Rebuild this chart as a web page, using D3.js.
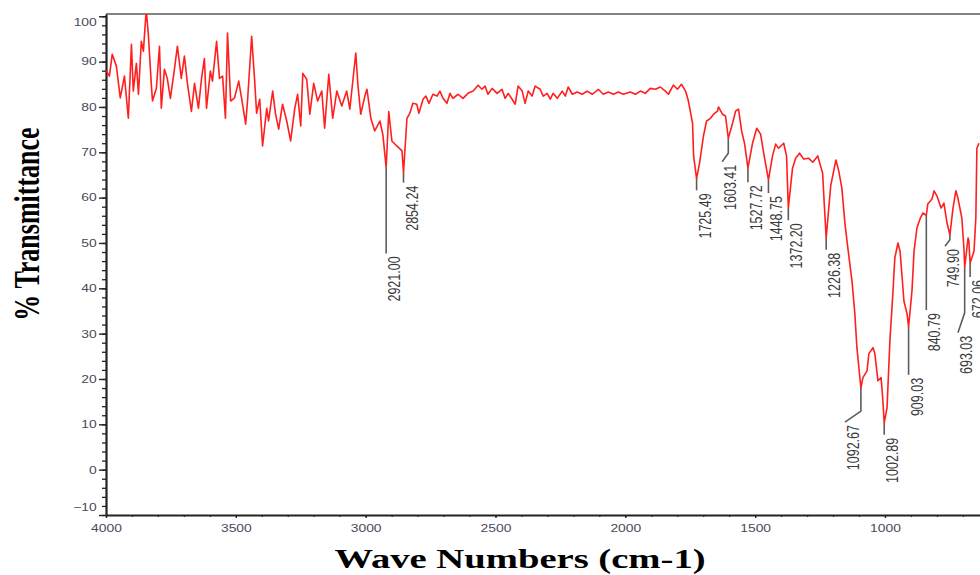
<!DOCTYPE html>
<html lang="en">
<head>
<meta charset="UTF-8">
<title>% Transmittance vs Wave Numbers</title>
<script src="https://d3js.org/d3.v7.min.js"></script>
<style>
  body { margin: 0; background: #fff; overflow: hidden; }
  svg { display: block; }
  .tick-label { font-family: "Liberation Sans", Arial, sans-serif; font-size: 10.5px; fill: #4a4a5a; }
  .peak-label { font-family: "Liberation Sans", Arial, sans-serif; font-size: 12.5px; fill: #3a3a3a; }
  .title { font-family: "Liberation Serif", "Times New Roman", serif; font-weight: bold; fill: #000; }
</style>
</head>
<body>
<div id="chart"></div>
<script>
// spectrum: wave number (cm-1) and % transmittance
const waveNumbers = [
  3999, 3987, 3976, 3960, 3945, 3929, 3914, 3902, 3895, 3883, 3875, 3864, 3856, 3845, 3837, 3825,
  3821, 3806, 3794, 3787, 3775, 3764, 3752, 3736, 3725, 3710, 3698, 3686, 3671, 3659, 3644, 3632,
  3621, 3613, 3598, 3590, 3574, 3563, 3551, 3540, 3532, 3520, 3505, 3489, 3478, 3462, 3455, 3439,
  3428, 3420, 3408, 3397, 3381, 3374, 3358, 3347, 3335, 3320, 3304, 3289, 3273, 3262, 3250, 3242,
  3227, 3215, 3200, 3185, 3169, 3158, 3142, 3127, 3111, 3092, 3073, 3061, 3038, 3030, 3019, 3003,
  2995, 2980, 2965, 2945, 2934, 2921, 2911, 2899, 2880, 2860, 2854.24, 2841, 2830, 2818, 2803, 2795,
  2779, 2768, 2756, 2741, 2725, 2714, 2702, 2687, 2675, 2664, 2644, 2625, 2606, 2586, 2567, 2552,
  2540, 2529, 2513, 2494, 2475, 2463, 2451, 2436, 2424, 2413, 2397, 2386, 2374, 2359, 2347, 2328,
  2316, 2301, 2289, 2278, 2262, 2243, 2231, 2220, 2204, 2185, 2166, 2147, 2127, 2104, 2085, 2065,
  2046, 2027, 2008, 1981, 1961, 1942, 1923, 1904, 1884, 1865, 1846, 1834, 1815, 1799, 1784, 1768,
  1757, 1741, 1737, 1725.49, 1714, 1699, 1687, 1672, 1660, 1645, 1641, 1626, 1614, 1603.41, 1587, 1575,
  1564, 1552, 1541, 1527.72, 1510, 1494, 1479, 1467, 1448.75, 1433, 1421, 1410, 1390, 1379, 1372.2, 1356,
  1344, 1329, 1313, 1294, 1278, 1259, 1240, 1234, 1226.38, 1209, 1189, 1178, 1166, 1154, 1143, 1127,
  1116, 1108, 1098, 1092.67, 1085, 1069, 1062, 1046, 1039, 1027, 1015, 1008, 1002.89, 992, 981, 969,
  962, 950, 942, 935, 927, 915, 909.03, 896, 888, 877, 865, 854, 840.79, 835, 819, 811,
  800, 784, 773, 761, 749.9, 738, 727, 719, 704, 696, 693.03, 680, 677, 672.06, 657, 650,
  646, 638
];
const transmittance = [
  88, 86.8, 91.6, 89, 82, 86.8, 77.5, 93.8, 83.5, 89.6, 82.8, 94.5, 92.3, 101.5, 96, 84.6,
  81.3, 84.1, 93.4, 79.7, 88.3, 86.3, 81.9, 88.5, 93.4, 86.3, 91.2, 85, 79, 85.2, 79.7, 86.3,
  90.7, 79.7, 87.9, 85.7, 94.5, 86.3, 86.8, 77.5, 96.3, 81.3, 82, 85.7, 82, 76.2, 81.3, 95.6,
  86.3, 78.6, 81.7, 71.4, 79.7, 76.9, 83.5, 78.4, 75.1, 80.6, 76.9, 72.5, 79.7, 82.8, 75.8, 87.4,
  86.1, 78.4, 85.2, 81.3, 83.5, 75.3, 87.2, 77.5, 83.5, 80.2, 83.5, 79.5, 91.9, 85, 78.4, 82.4,
  83.9, 77.5, 74.7, 76.9, 74, 66.6, 79, 72.5, 71.4, 70.3, 65.5, 77.5, 78.6, 80.8, 80.6, 78.6,
  81.7, 82.4, 80.8, 82.8, 82.4, 83.5, 81.9, 80.8, 83, 81.9, 82.8, 81.9, 83, 83.5, 84.8, 83.9,
  84.6, 82.8, 84.1, 83, 83.9, 81.9, 83, 81.7, 80.6, 84.6, 83.5, 80.8, 83.5, 82.4, 84.6, 83.9,
  82.4, 83, 81.7, 83, 81.9, 83.5, 82.4, 84.4, 82.8, 83.3, 82.8, 83.5, 82.8, 83.9, 82.8, 83.3,
  82.8, 83.3, 82.8, 83.3, 82.8, 83.5, 83, 84.1, 83.9, 84.4, 83.5, 82.8, 84.8, 83.9, 85, 83.5,
  81.3, 76.4, 69.2, 64.2, 67.6, 73.6, 76.9, 77.5, 78.4, 79.1, 80, 78.4, 78, 73.1, 76.4, 79.1,
  79.5, 74.7, 72, 66.5, 72, 75.3, 74, 69.8, 63.9, 69.2, 71.8, 70.9, 72, 69.2, 57.7, 66.5,
  68.7, 69.8, 68.5, 68.7, 67.8, 69.2, 65.4, 58.8, 51.1, 62.6, 68.3, 65.9, 62.1, 54.2, 48.9, 41.6,
  34.4, 26.9, 21.1, 18, 20.3, 21.8, 25.6, 26.9, 25.6, 19.6, 20.3, 15.2, 10.3, 13.7, 28.4, 39.4,
  46.7, 50, 48.2, 43.2, 37.2, 34.4, 31.5, 39.4, 48.2, 53.3, 55.3, 56.6, 56.1, 58.6, 59.7, 61.5,
  60.4, 57.7, 58.8, 54.4, 51.8, 57.7, 61.5, 59.9, 55.5, 48.9, 44.6, 51.1, 50.5, 45.6, 48.2, 55.5,
  70.9, 72
];

// band labels and their leader lines (values in axis units)
const peakLabels = ["2921.00", "2854.24", "1725.49", "1603.41", "1527.72", "1448.75", "1372.20", "1226.38",
                    "1092.67", "1002.89", "909.03", "840.79", "749.90", "693.03", "672.06"];
const peakT      = [66.6, 65.5, 64.2, 73.1, 66.5, 63.9, 57.7, 51.1, 18.0, 10.3, 31.5, 56.1, 51.8, 44.6, 45.6];
const elbowT     = [47.7, 63.3, 61.6, 69.8, 63.4, 61.0, 55.0, 48.5, 12.9, 7.7, 20.9, 35.2, 50.7, 34.6, 42.5];
const leaderEndT = [47.7, 63.3, 61.6, 67.9, 63.4, 61.0, 55.0, 48.5, 10.5, 7.7, 20.9, 35.2, 49.3, 30.2, 42.5];
const labelWn    = [2921, 2854.24, 1725.49, 1627, 1527.72, 1448.75, 1372.2, 1226.38,
                    1154, 1002.89, 909.03, 840.79, 769, 719, 672.06];

const xTicks = [4000, 3500, 3000, 2500, 2000, 1500, 1000];
const yTicks = [-10, 0, 10, 20, 30, 40, 50, 60, 70, 80, 90, 100];

const width = 980, height = 575;
const plot = {left: 106, right: 980, top: 14, bottom: 515};
const stretch = 1.32;   // the source picture is stretched sideways

const svg = d3.select("#chart").append("svg")
  .attr("width", width)
  .attr("height", height);

const x = d3.scaleLinear().domain([4000, 634]).range([plot.left, plot.right]);
const y = d3.scaleLinear().domain([-10, 100.5]).range([plot.bottom, plot.top]);

svg.append("clipPath").attr("id", "plot-clip")
  .append("rect")
  .attr("x", plot.left).attr("y", plot.top)
  .attr("width", plot.right - plot.left).attr("height", plot.bottom - plot.top);

// top frame
svg.append("line")
  .attr("x1", plot.left).attr("x2", plot.right)
  .attr("y1", plot.top).attr("y2", plot.top)
  .attr("stroke", "#5a5a5a").attr("stroke-width", 1.6);

// minor ticks
svg.append("g")
  .attr("transform", `translate(${plot.left},0)`)
  .call(d3.axisLeft(y).tickValues(d3.range(-10, 101, 2)).tickSize(4).tickFormat(""))
  .call(g => g.select(".domain").remove())
  .selectAll("line").attr("stroke", "#222").attr("stroke-width", 1.3);

svg.append("g")
  .attr("transform", `translate(0,${plot.bottom})`)
  .call(d3.axisBottom(x).tickValues(d3.range(700, 4001, 100)).tickSize(2).tickFormat(""))
  .call(g => g.select(".domain").remove())
  .selectAll("line").attr("stroke", "#333").attr("stroke-width", 1.3);

// y axis
const yAxisG = svg.append("g")
  .attr("transform", `translate(${plot.left},0)`)
  .call(d3.axisLeft(y).tickValues(yTicks).tickSize(7).tickSizeOuter(0).tickFormat(d3.format("d")));
yAxisG.select(".domain").attr("stroke", "#222").attr("stroke-width", 2.2);
yAxisG.selectAll(".tick line").attr("stroke", "#222").attr("stroke-width", 1.4);
yAxisG.selectAll(".tick text")
  .attr("class", "tick-label")
  .attr("x", -7)
  .attr("y", d => d === 100 ? 6 : (d === -10 ? -8 : 0))
  .attr("transform", `scale(${stretch},1)`);

// x axis
const xAxisG = svg.append("g")
  .attr("transform", `translate(0,${plot.bottom})`)
  .call(d3.axisBottom(x).tickValues(xTicks).tickSize(3).tickSizeOuter(0).tickFormat(d3.format("d")));
xAxisG.select(".domain").attr("stroke", "#222").attr("stroke-width", 2.2);
xAxisG.selectAll(".tick line").attr("stroke", "#222").attr("stroke-width", 1.4);
xAxisG.selectAll(".tick text")
  .attr("class", "tick-label")
  .attr("y", 10)
  .attr("transform", `scale(${stretch},1)`);

// spectrum
const spectrum = waveNumbers.map((w, i) => ({wn: w, t: transmittance[i]}));
const line = d3.line().x(d => x(d.wn)).y(d => y(d.t));

svg.append("path")
  .datum(spectrum)
  .attr("clip-path", "url(#plot-clip)")
  .attr("fill", "none")
  .attr("stroke", "#ff1f1f")
  .attr("stroke-width", 1.6)
  .attr("stroke-linejoin", "round")
  .attr("d", line);

// band labels
const peaks = peakLabels.map((lab, i) => ({
  label: lab, wn: +lab, t: peakT[i], elbow: elbowT[i], end: leaderEndT[i], lwn: labelWn[i]
}));

svg.selectAll(".leader")
  .data(peaks)
  .enter()
  .append("polyline")
  .attr("class", "leader")
  .attr("fill", "none")
  .attr("stroke", "#5c5c5c")
  .attr("stroke-width", 1.6)
  .attr("points", d => [[x(d.wn), y(d.t)], [x(d.wn), y(d.elbow)], [x(d.lwn), y(d.end)]].join(" "));

svg.selectAll(".peak-label")
  .data(peaks)
  .enter()
  .append("text")
  .attr("class", "peak-label")
  .attr("text-anchor", "end")
  .attr("transform", d => `translate(${x(d.lwn) + 14},${y(d.end) + 3}) scale(${stretch},1) rotate(-90)`)
  .text(d => d.label);

// axis titles
svg.append("text")
  .attr("class", "title")
  .attr("text-anchor", "middle")
  .style("font-size", "28px")
  .attr("transform", `translate(520,568) scale(1.38,1)`)
  .text("Wave Numbers (cm-1)");

svg.append("text")
  .attr("class", "title")
  .attr("text-anchor", "middle")
  .style("font-size", "26px")
  .attr("transform", `translate(39,224) scale(1.38,1) rotate(-90)`)
  .text("% Transmittance");
</script>
</body>
</html>
